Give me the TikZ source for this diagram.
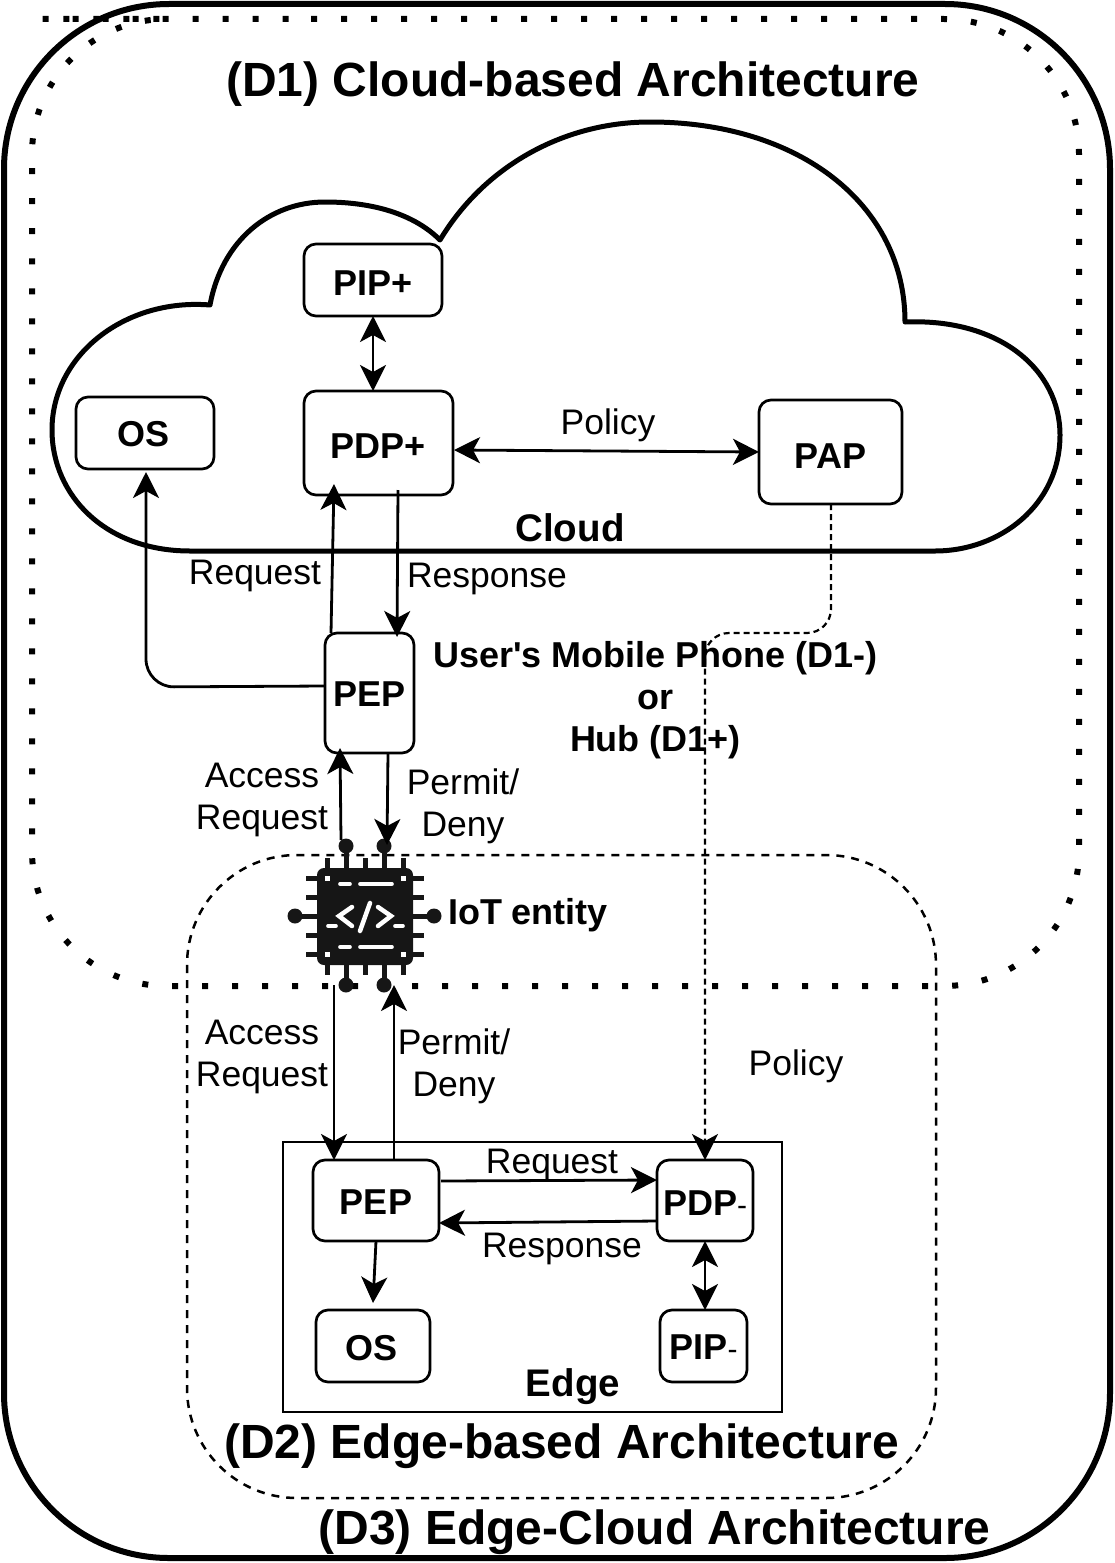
\documentclass[tikz,border=0pt]{standalone}
\usepackage{fontspec}
\setmainfont{Liberation Sans}
\usetikzlibrary{arrows.meta,calc}
\definecolor{chipcol}{HTML}{161616}
\tikzset{
  x=1pt,y=-1pt,
  tipb/.tip={Stealth[length=26pt,width=26pt,inset=7pt]},
  box/.style={draw,line width=2.7pt,rounded corners=12pt,inner sep=0pt,outer sep=0pt,font=\bfseries\fontsize{36}{40}\selectfont,anchor=north west,text height=26pt,text depth=0pt},
  conn/.style={line width=2.8pt,-tipb},
  conntwo/.style={line width=2.8pt,tipb-tipb},
  lbl/.style={font=\fontsize{35.5}{42}\selectfont,align=center,inner sep=0pt},
  bl/.style={font=\bfseries\fontsize{36}{42}\selectfont,align=center,inner sep=0pt},
  titlelbl/.style={font=\bfseries\fontsize{48}{50}\selectfont,inner sep=0pt},
  pin/.style={line width=5pt,draw=chipcol},
  gl/.style={line width=3.6pt,draw=white,line cap=round},
}
\newcommand{\smallminus}{{\fontsize{30}{30}\mdseries -}}
\begin{document}
\begin{tikzpicture}
\useasboundingbox (0,0) rectangle (1114,1563);
% outer containers
\draw[line width=6pt,rounded corners=165pt] (4,4) rectangle (1110,1558);
\draw[line width=6pt,dash pattern=on 6pt off 24pt,rounded corners=135pt] (176,19) -- (1079,19) -- (1079,986) -- (32,986) -- (32,19) -- cycle;
\draw[line width=2.5pt,dash pattern=on 8pt off 7pt,rounded corners=110pt] (187,855) rectangle (936,1498);
% cloud
\draw[line width=5pt,line join=round]
  (210,305) .. controls (222,240) and (270,202) .. (325,202)
  .. controls (375,202) and (415,215) .. (440,240)
  .. controls (485,165) and (565,122) .. (650,122)
  .. controls (800,122) and (905,205) .. (905,322)
  .. controls (1000,318) and (1060,370) .. (1060,435)
  .. controls (1060,505) and (1000,551) .. (935,551)
  -- (190,551)
  .. controls (105,551) and (52,495) .. (52,430)
  .. controls (52,355) and (125,298) .. (210,305) -- cycle;
% edge box
\node[draw,line width=2.7pt,outer sep=0pt,minimum width=499pt,minimum height=270pt,inner sep=0pt,anchor=north west] (edgebox) at (283,1142) {};
% nodes
\node[box,minimum width=138pt,minimum height=72pt,fill=white,text height=30pt] (pipp) at (304,244) {PIP+};
\node[box,minimum width=138pt,minimum height=72pt] (osa) at (76,397) {\kern-3pt OS};
\node[box,minimum width=149pt,minimum height=104pt,text height=30pt] (pdpp) at (304,391) {PDP+};
\node[box,minimum width=143pt,minimum height=104pt,text height=32pt] (pap) at (759,400) {PAP};
\node[box,minimum width=89pt,minimum height=120pt,fill=white] (pepa) at (325,633) {PEP};
\node[box,minimum width=126pt,minimum height=81pt,text height=27pt] (pepb) at (313,1160) {PEP};
\node[box,minimum width=96pt,minimum height=81pt,text height=30pt] (pdpm) at (657,1160) {PDP\smallminus};
\node[box,minimum width=114pt,minimum height=72pt,text height=28pt] (osb) at (316,1310) {\kern-3pt OS};
\node[box,minimum width=87pt,minimum height=72pt,text height=27pt] (pipm) at (660,1310) {PIP\smallminus};
% chip
\coordinate (iot) at (365.5,916.5);
\foreach \px in {327,365,403}{
  \draw[pin] (\px,858) -- (\px,975);}
\foreach \py in {878,897,935,954}{
  \draw[pin] (306,\py) -- (424,\py);}
\foreach \px in {346,384}{
  \draw[pin] (\px,846) -- (\px,985);
  \fill[chipcol] (\px,846) circle (7.5pt);
  \fill[chipcol] (\px,985) circle (7.5pt);}
\draw[pin] (295,916) -- (434,916);
\fill[chipcol] (295,916) circle (7.5pt);
\fill[chipcol] (434,916) circle (7.5pt);
\fill[chipcol,rounded corners=7pt] (317,868) rectangle (413,965);
\foreach \px in {327,403}{\foreach \py in {878,954}{
  \fill[white] (\px-2.5,\py-2.5) rectangle (\px+2.5,\py+2.5);}}
\foreach \py in {884,947}{
  \draw[gl] (340,\py) -- (350,\py);
  \draw[gl] (360,\py) -- (392,\py);}
\draw[gl,line width=4.5pt] (352,907) -- (339,916) -- (352,926);
\draw[gl,line width=4.5pt] (378,907) -- (391,916) -- (378,926);
\draw[gl,line width=4.5pt] (370,903) -- (360,931);
\draw[gl] (328,926) -- (336,926);
\draw[gl] (395,926) -- (403,926);
% connectors
\draw[conntwo] ($(pipp.south west)+(69,0)$) -- ($(pdpp.north west)+(69,0)$);
\draw[conntwo] ($(pdpp.north east)+(1,59)$) -- ($(pap.north west)+(0,52)$);
\draw[conn,rounded corners=28pt] ($(pepa.north west)+(0,53)$) -- (146,687) -- ($(osa.south west)+(70,3)$);
\draw[conn] ($(pepa.north west)+(6,0)$) -- ($(pdpp.south west)+(30,-11)$);
\draw[conn] ($(pdpp.south west)+(94,-5)$) -- ($(pepa.north west)+(72,4)$);
\coordinate (iotal) at (341,840);
\coordinate (iotar) at (387,845);
\coordinate (iotbl) at (334,985);
\coordinate (iotbr) at (394,985);
\draw[conn] (iotal) -- ($(pepa.south west)+(15,-5)$);
\draw[conn] ($(pepa.south west)+(63,0)$) -- (iotar);
\draw[line width=2.2pt,dash pattern=on 6pt off 4pt,-tipb,rounded corners=24pt]
  ($(pap.south west)+(72,0)$) -- (831,633) -- (705,633) -- ($(pdpm.north west)+(48,0)$);
\draw[conn] (iotbl) -- ($(pepb.north west)+(21,0)$);
\draw[conn] ($(pepb.north west)+(81,0)$) -- (iotbr);
\draw[conn] ($(pepb.north east)+(2,21)$) -- ($(pdpm.north west)+(0,20)$);
\draw[conn] ($(pdpm.north west)+(0,61)$) -- ($(pepb.north east)+(0,63)$);
\draw[conn] ($(pepb.south west)+(63,0)$) -- ($(osb.north west)+(57,-7)$);
\draw[conntwo] ($(pdpm.south west)+(48,0)$) -- ($(pipm.north west)+(45,0)$);
% labels
\node[titlelbl] (td1) at (573,84) {(D1) Cloud-based Architecture};
\node[titlelbl] (td2) at (561.5,1446) {(D2) Edge-based Architecture};
\node[titlelbl] (td3) at (654.5,1532) {(D3) Edge-Cloud Architecture};
\node[bl,font=\bfseries\fontsize{38.5}{42}\selectfont] (lc) at (570,528) {Cloud};
\node[bl,font=\bfseries\fontsize{38.5}{42}\selectfont] (le) at (573,1387) {Edge};
\node[lbl] (lp1) at (608,425) {Policy};
\node[lbl] (lp2) at (796,1066) {Policy};
\node[lbl] (lr1) at (255,576) {Request};
\node[lbl] (lr2) at (487,579) {Response};
\node[lbl] (lr3) at (552,1165) {Request};
\node[lbl] (lr4) at (562,1249) {Response};
\node[lbl] (la1) at (262,800) {Access\\Request};
\node[lbl] (la2) at (262,1057) {Access\\Request};
\node[lbl] (lpd1) at (463,806) {Permit/\\Deny};
\node[lbl] (lpd2) at (454,1066) {Permit/\\Deny};
\node[bl] (lu) at (655.5,700) {User\textquotesingle s Mobile Phone (D1-)\\or\\Hub (D1+)};
\node[bl] (li) at (528,915) {IoT entity};
\end{tikzpicture}
\end{document}
